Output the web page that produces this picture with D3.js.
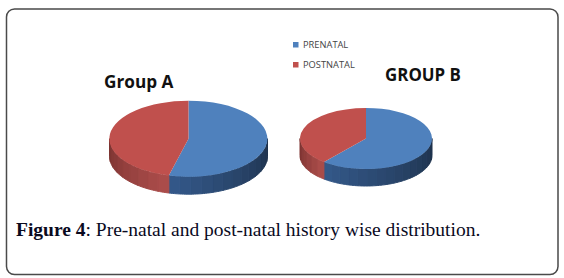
<!DOCTYPE html>
<html>
<head>
<meta charset="utf-8">
<script src="https://cdn.jsdelivr.net/npm/d3@7/dist/d3.min.js"></script>
<style>
  html, body { margin: 0; padding: 0; background: #fff; }
  svg { display: block; }
</style>
</head>
<body>
<div id="chart"></div>
<script>
const categories = ["PRENATAL", "POSTNATAL"];
const groupAValues = [54, 46];
const groupBValues = [61, 39];
const groupTitles = ["Group A", "GROUP B"];
const captionBold = "Figure 4";
const captionRest = ": Pre-natal and post-natal history wise distribution.";

const WIDTH = 564, HEIGHT = 278;
const topColors = ["#4f81bd", "#c0504d"];
// side wall shades, going round the front rim from right to left
const wallColors = [
  ["#1d3049", "#34598a"],
  ["#7a3230", "#ad4e4b"]
];

const svg = d3.select("#chart").append("svg")
  .attr("width", WIDTH)
  .attr("height", HEIGHT);

svg.append("rect")
  .attr("x", 6.5).attr("y", 9)
  .attr("width", 551.5).attr("height", 265.5)
  .attr("rx", 8)
  .attr("fill", "#fff")
  .attr("stroke", "#4a4a4a")
  .attr("stroke-width", 1.5);

const drawPie = (values, opts) => {
  const { cx, cy, rx, ry, depth } = opts;
  const slices = d3.pie().sort(null)(values);
  const g = svg.append("g").attr("transform", "translate(" + cx + "," + cy + ")");
  const px = a => rx * Math.sin(a);
  const py = a => -ry * Math.cos(a);
  const STEP = Math.PI / 22;

  // wall: only the front half of the rim is visible
  slices.forEach((s, i) => {
    const a0 = Math.max(s.startAngle, Math.PI / 2);
    const a1 = Math.min(s.endAngle, Math.PI * 1.5);
    if (a1 <= a0) return;
    const shade = d3.scaleLinear()
      .domain(i === 0 ? [a0, a1] : [a1, a0])
      .range(wallColors[i]);
    const n = Math.max(1, Math.round((a1 - a0) / STEP));
    d3.range(n).forEach(k => {
      const b0 = a0 + (a1 - a0) * k / n;
      const b1 = a0 + (a1 - a0) * (k + 1) / n;
      const rim = d3.range(7).map(j => b0 + (b1 - b0) * j / 6);
      const pts = rim.map(a => [px(a), py(a)])
        .concat(rim.slice().reverse().map(a => [px(a), py(a) + depth]));
      g.append("path")
        .attr("d", d3.line().curve(d3.curveLinearClosed)(pts))
        .attr("fill", shade((b0 + b1) / 2))
        .attr("stroke", shade((b0 + b1) / 2))
        .attr("stroke-width", 1);
    });
  });

  // top face, unit arc squashed into the ellipse
  const arc = d3.arc().innerRadius(0).outerRadius(1);
  g.append("g")
    .attr("transform", "scale(" + rx + "," + ry + ")")
    .selectAll("path")
    .data(slices)
    .enter()
    .append("path")
    .attr("d", arc)
    .attr("fill", (d, i) => topColors[i]);
};

drawPie(groupAValues, { cx: 188.5, cy: 138.7, rx: 79, ry: 38, depth: 17.5 });
drawPie(groupBValues, { cx: 366, cy: 138.5, rx: 66, ry: 30.5, depth: 17 });

svg.selectAll("text.title")
  .data(groupTitles)
  .enter()
  .append("text")
  .attr("class", "title")
  .attr("x", (d, i) => [104, 385][i])
  .attr("y", (d, i) => [88, 81][i])
  .attr("font-family", "'Open Sans', sans-serif")
  .attr("font-weight", 700)
  .attr("font-size", (d, i) => [17.2, 16.9][i])
  .attr("fill", "#111")
  .text(d => d);

const legend = svg.selectAll("g.legend")
  .data(categories)
  .enter()
  .append("g")
  .attr("class", "legend")
  .attr("transform", (d, i) => "translate(293," + (44.5 + i * 20) + ")");

legend.append("rect")
  .attr("y", -2.5)
  .attr("width", 5.5)
  .attr("height", 5.5)
  .attr("fill", (d, i) => topColors[i]);

legend.append("text")
  .attr("x", 10)
  .attr("y", 3.5)
  .attr("font-family", "'Open Sans', sans-serif")
  .attr("font-size", 9.3)
  .attr("fill", "#444")
  .text(d => d);

const caption = svg.append("text")
  .attr("x", 16)
  .attr("y", 236)
  .attr("font-family", "'Liberation Serif', serif")
  .attr("font-size", 19.5)
  .attr("fill", "#0a0a1e");
caption.append("tspan").attr("font-weight", 700).text(captionBold);
caption.append("tspan").text(captionRest);
</script>
</body>
</html>
